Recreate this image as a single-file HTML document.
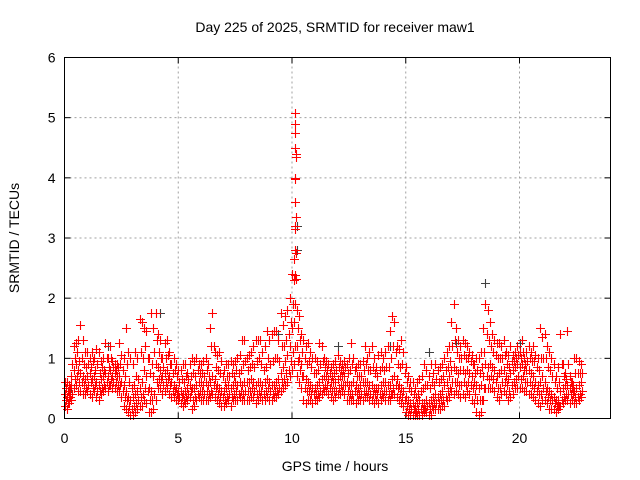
<!DOCTYPE html>
<html><head><meta charset="utf-8"><style>
body{margin:0;background:#fff}
svg{display:block;font-family:"Liberation Sans",sans-serif}
</style></head><body>
<svg id="chart" width="640" height="480" viewBox="0 0 640 480" xmlns="http://www.w3.org/2000/svg">
<rect width="640" height="480" fill="#fff"/>
<text x="335" y="32" font-size="14" text-anchor="middle">Day 225 of 2025, SRMTID for receiver maw1</text>
<text x="0" y="0" font-size="14" text-anchor="middle" transform="translate(19,238) rotate(-90)">SRMTID / TECUs</text>
<text x="335" y="471" font-size="14" text-anchor="middle">GPS time / hours</text>
<g id="grid"></g>
<g id="ticks"></g>
<g id="marks"></g>
<rect x="64.5" y="57.5" width="546" height="361" fill="none" stroke="#000" stroke-width="1"/>
</svg>
<script>
const xTicks=[0,5,10,15,20];
const yTicks=[0,1,2,3,4,5,6];
const hiVals=[.6,.6,.55,.7,1.2,1.25,1.3,1.55,1.3,1.1,
1.1,1.0,1.1,1.0,1.15,1.1,0.95,1.0,1.25,1.0,
1.2,0.95,0.9,0.9,1.25,1.05,1.0,1.5,1.1,1.0,
0.9,1.1,1.0,1.65,1.6,1.5,1.45,1.0,1.75,1.5,
1.75,1.4,1.3,1.0,1.25,1.3,1.1,0.9,1.0,0.9,
0.8,0.8,0.9,0.9,0.75,0.9,1.0,0.95,1.0,0.9,
0.9,0.95,1.0,0.9,1.5,1.75,1.1,1.05,1.1,0.95,
0.8,0.9,0.9,0.95,0.9,0.95,1.0,1.05,1.3,1.3,
1.0,1.05,1.1,1.2,1.3,1.3,1.3,1.1,1.2,1.45,
1.3,1.4,1.45,1.45,1.3,1.75,1.55,1.7,1.8,2.0,
2.4,2.3,1.8,1.7,1.4,1.3,1.2,1.25,1.1,1.0,
1.0,0.95,1.25,1.2,1.0,0.95,0.9,0.85,0.9,0.95,
1.05,0.95,0.9,0.95,0.9,1.0,1.25,1.0,0.85,0.9,
0.9,0.95,1.2,1.0,1.1,1.2,1.0,0.85,1.05,1.1,
1.0,1.1,1.2,1.45,1.7,1.6,1.2,1.15,1.3,1.1,
0.85,0.7,0.6,0.6,0.5,0.6,0.65,0.7,0.9,0.8,
0.7,0.9,0.75,0.9,0.8,0.85,0.9,1.0,1.1,1.2,
1.6,1.9,1.5,1.3,1.2,1.3,1.25,1.2,1.1,1.05,
0.9,1.0,1.0,1.1,1.5,1.9,1.8,1.6,1.4,1.3,
1.25,1.25,1.2,1.3,1.1,1.05,1.2,1.05,1.1,1.2,
1.1,1.3,1.0,1.1,1.2,1.1,1.2,1.05,1.0,1.5,
1.35,1.4,1.2,1.1,1.0,0.9,0.7,0.85,1.4,0.9,
0.75,1.45,0.7,0.6,1.0,1.0,0.95,0.9];
const upperQuartVals=[.5,.45,.5,.9,1.0,1.1,.95,1.0,.9,.85,
.9,.85,.95,.8,.9,.75,.85,.8,1.0,.85,
1.0,.85,.8,.85,.9,.8,.7,.9,.6,.5,
.55,.7,.65,1.1,1.0,1.2,1.0,.75,.9,1.1,
1.3,1.1,1.0,.85,1.0,1.05,.9,.75,.8,.7,
.6,.65,.6,.7,.65,.7,.75,.7,.8,.75,
.75,.7,.8,.7,1.2,1.2,.85,.8,.75,.7,
.6,.7,.7,.75,.7,.8,.75,.8,.9,.95,
.8,.85,.9,.85,.95,1.0,.9,.8,.85,1.0,
.9,.95,1.0,1.0,.95,1.2,1.2,1.3,1.4,1.6,
1.9,1.9,1.5,1.3,1.1,1.0,.9,.95,.85,.75,
.75,.8,.9,.95,.85,.8,.75,.7,.75,.8,
.85,.8,.8,.85,.75,.8,.9,.8,.7,.7,
.7,.8,.9,.8,.8,.85,.75,.7,.8,.85,
.8,.85,.85,1.0,1.2,1.1,.9,.85,.9,.75,
.6,.5,.45,.4,.35,.4,.45,.5,.55,.55,
.5,.6,.55,.65,.6,.65,.7,.8,.85,.95,
1.2,1.3,1.1,1.0,1.0,1.05,1.0,1.0,.95,.9,
.75,.8,.75,.85,1.1,1.4,1.3,1.2,1.1,1.05,
1.0,1.0,1.0,1.05,.9,.85,.95,.95,1.0,1.05,
1.0,1.1,.9,.95,1.0,.95,.95,.85,.8,1.0,
1.0,1.0,.85,.8,.7,.6,.5,.6,.9,.7,
.65,.9,.6,.55,.75,.75,.75,.75];
const midVals=[.4,.35,.4,.55,.8,.9,.8,.75,.7,.65,
.7,.75,.65,.7,.6,.55,.65,.7,.75,.7,
.8,.7,.75,.7,.7,.6,.55,.45,.35,.3,
.35,.4,.45,.5,.6,.8,.7,.5,.45,.7,
.9,.85,.8,.7,.75,.8,.7,.6,.55,.5,
.45,.45,.4,.45,.5,.55,.5,.5,.55,.6,
.6,.55,.6,.55,.6,.7,.65,.55,.5,.45,
.45,.5,.55,.5,.55,.6,.55,.6,.55,.6,
.6,.6,.65,.6,.55,.6,.6,.55,.6,.65,
.6,.55,.55,.6,.65,.75,.85,.95,1.05,1.2,
1.5,1.6,1.2,1.0,.9,.7,.65,.6,.55,.5,
.5,.55,.6,.65,.7,.7,.65,.6,.6,.6,
.65,.7,.7,.7,.6,.55,.55,.6,.55,.5,
.55,.6,.6,.6,.55,.55,.5,.5,.5,.55,
.6,.6,.55,.55,.65,.7,.65,.55,.5,.45,
.35,.3,.25,.25,.2,.25,.3,.25,.25,.3,
.25,.3,.35,.4,.35,.4,.45,.55,.6,.7,
.8,.85,.8,.75,.8,.8,.75,.8,.75,.7,
.6,.55,.5,.55,.7,.9,.85,.9,.85,.8,
.7,.75,.8,.8,.7,.65,.75,.8,.85,.9,
.85,.9,.8,.8,.8,.75,.7,.6,.55,.6,
.7,.6,.5,.45,.4,.35,.3,.3,.45,.5,
.55,.55,.5,.5,.45,.5,.55,.6];
const lowerQuartVals=[.3,.25,.35,.4,.65,.7,.6,.6,.55,.5,
.55,.6,.5,.55,.45,.45,.5,.55,.6,.55,
.65,.6,.6,.55,.55,.45,.35,.3,.2,.15,
.2,.25,.3,.35,.4,.5,.45,.3,.3,.4,
.6,.65,.65,.55,.6,.65,.55,.45,.45,.4,
.35,.35,.3,.35,.4,.45,.3,.35,.4,.45,
.45,.4,.45,.4,.45,.55,.5,.4,.35,.35,
.3,.35,.4,.35,.4,.45,.4,.45,.4,.45,
.45,.45,.5,.45,.4,.45,.45,.4,.45,.5,
.45,.4,.45,.45,.5,.6,.65,.75,.8,.95,
1.1,1.2,.95,.8,.7,.5,.45,.45,.4,.4,
.4,.4,.45,.5,.55,.55,.5,.45,.45,.45,
.5,.55,.55,.55,.45,.4,.4,.45,.4,.4,
.4,.45,.45,.45,.4,.4,.4,.4,.4,.4,
.45,.45,.4,.4,.5,.55,.5,.4,.35,.3,
.2,.15,.15,.15,.1,.15,.15,.15,.15,.2,
.15,.2,.25,.25,.25,.3,.3,.35,.45,.5,
.6,.6,.6,.55,.55,.6,.55,.6,.55,.5,
.4,.3,.3,.3,.5,.7,.65,.7,.65,.6,
.5,.5,.6,.6,.55,.45,.55,.6,.65,.7,
.65,.7,.6,.6,.6,.55,.5,.45,.4,.4,
.5,.45,.35,.3,.3,.25,.2,.2,.3,.35,
.4,.4,.4,.4,.35,.35,.4,.45];
const loVals=[.2,.15,.25,.3,.5,.55,.45,.45,.4,.4,
.45,.4,.35,.45,.35,.3,.4,.45,.5,.45,
.55,.5,.5,.45,.45,.35,.2,.15,.1,.05,
.05,.1,.15,.2,.2,.3,.25,.1,.1,.15,
.3,.5,.5,.4,.45,.5,.4,.35,.35,.3,
.3,.25,.2,.25,.3,.35,.15,.2,.3,.35,
.3,.3,.3,.3,.35,.4,.35,.3,.25,.2,
.2,.25,.3,.2,.3,.3,.3,.35,.3,.3,
.3,.3,.35,.35,.25,.3,.35,.3,.3,.35,
.3,.3,.35,.35,.4,.45,.5,.55,.6,.7,
.8,.9,.7,.6,.5,.3,.25,.3,.3,.25,
.3,.3,.35,.4,.45,.45,.4,.35,.3,.35,
.4,.4,.45,.4,.3,.3,.3,.3,.25,.3,
.3,.3,.35,.35,.3,.3,.25,.3,.25,.3,
.35,.3,.3,.3,.4,.4,.35,.3,.25,.2,
.1,.05,.05,.05,.05,.05,.05,.05,.1,.1,
.05,.05,.15,.15,.15,.15,.2,.2,.3,.35,
.45,.4,.45,.4,.35,.4,.35,.45,.4,.3,
.25,.1,.05,.1,.3,.5,.5,.5,.5,.45,
.35,.3,.4,.45,.4,.3,.35,.4,.5,.5,
.5,.5,.45,.45,.4,.4,.35,.3,.25,.2,
.3,.3,.25,.15,.15,.15,.1,.15,.2,.25,
.3,.3,.25,.3,.25,.25,.3,.35];
const spikeTimes=[10.12,10.15,10.13,10.12,10.16,10.17,10.13,10.15,10.14,10.16,10.12,10.15,10.13,10.16,10.10,10.13,10.16];
const spikeVals=[5.08,4.9,4.75,4.5,4.4,4.35,4.0,3.98,3.6,3.35,3.2,3.15,2.8,2.75,2.65,2.38,2.32];
const greyTimes=[0.3,1.9,4.2,9.4,10.2,10.2,12.0,14.3,16.0,17.2,18.5,20.0];
const greyVals=[0.5,1.2,1.75,1.4,2.8,3.2,1.2,1.2,1.1,1.25,2.25,1.25];
const sampleStep=0.1;

const X0=64.5,X1=610.5,Y0=418.5,Y1=57.5,XMAX=24,YMAX=6;
const xs=v=>X0+(X1-X0)*v/XMAX;
const ys=v=>Y0-(Y0-Y1)*v/YMAX;
const NS='http://www.w3.org/2000/svg';
const grid=document.getElementById('grid'),ticks=document.getElementById('ticks'),marks=document.getElementById('marks');
function mk(tag,attrs,parent){const e=document.createElementNS(NS,tag);for(const k in attrs)e.setAttribute(k,attrs[k]);parent.appendChild(e);return e;}
yTicks.forEach(v=>{
  const y=ys(v);
  if(v>0&&v<YMAX){const g=mk('line',{x1:X0,x2:X1,y1:y,y2:y,stroke:'#a0a0a0','stroke-dasharray':'2,3'},grid);
  
  }
  mk('line',{x1:X0,x2:X0+6,y1:y,y2:y,stroke:'#000'},ticks);
  mk('line',{x1:X1-6,x2:X1,y1:y,y2:y,stroke:'#000'},ticks);
  const t=mk('text',{x:X0-9,y:y+5,'font-size':14,'text-anchor':'end'},ticks);
  t.textContent=v;
  
  
});
xTicks.forEach(v=>{
  const x=xs(v);
  if(v>0){const g=mk('line',{x1:x,x2:x,y1:Y0,y2:Y1,stroke:'#a0a0a0','stroke-dasharray':'2,3'},grid);
  
  }
  mk('line',{x1:x,x2:x,y1:Y0,y2:Y0-6,stroke:'#000'},ticks);
  mk('line',{x1:x,x2:x,y1:Y1,y2:Y1+6,stroke:'#000'},ticks);
  const t=mk('text',{x:x,y:443,'font-size':14,'text-anchor':'middle'},ticks);
  t.textContent=v;
  
  
});
function crosses(times,vals,color,name){
  let d='';
  for(let i=0;i<vals.length;i++){
    const x=Math.round(xs(times[i]))+0.5,y=Math.round(ys(vals[i]))+0.5;
    d+=`M${x-4.5} ${y}H${x+4.5}M${x} ${y-4.5}V${y+4.5}`;
  }
  const p=mk('path',{d:d,stroke:color,'stroke-width':1.1,fill:'none'},marks);
  
  
}
const sampleTimes=hiVals.map((_,i)=>i*sampleStep);
const halfTimes=hiVals.map((_,i)=>(i+0.5)*sampleStep);
crosses(greyTimes,greyVals,'#404040','other-satellite-points');
crosses(sampleTimes,hiVals,'#ff0000','srmtid-upper-points');
crosses(halfTimes,upperQuartVals,'#ff0000','srmtid-upper-quartile-points');
crosses(sampleTimes,midVals,'#ff0000','srmtid-mid-points');
crosses(halfTimes,lowerQuartVals,'#ff0000','srmtid-lower-quartile-points');
crosses(sampleTimes,loVals,'#ff0000','srmtid-lower-points');
crosses(spikeTimes,spikeVals,'#ff0000','srmtid-spike-points');
</script>
</body></html>
